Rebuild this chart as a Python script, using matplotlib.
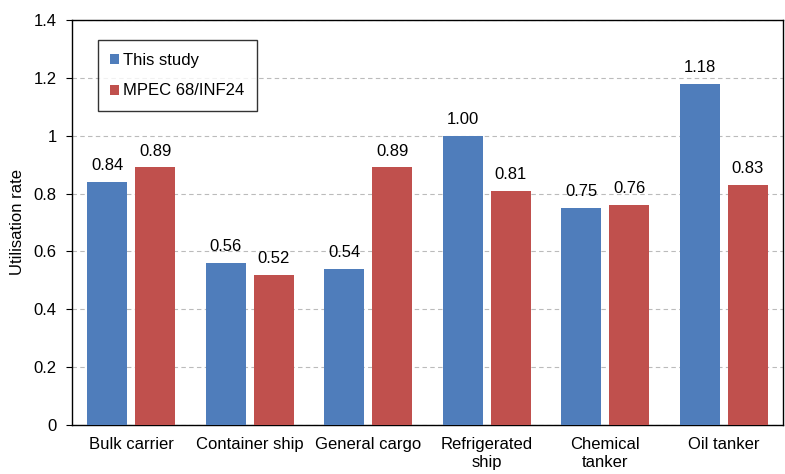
import matplotlib
matplotlib.use("Agg")
import matplotlib.pyplot as plt
import numpy as np

plt.rcParams['font.family'] = ['Liberation Sans', 'DejaVu Sans']

categories = ["Bulk carrier", "Container ship", "General cargo", "Refrigerated\nship", "Chemical\ntanker", "Oil tanker"]
this_study = [0.84, 0.56, 0.54, 1.00, 0.75, 1.18]
mpec = [0.89, 0.52, 0.89, 0.81, 0.76, 0.83]
series_names = ["This study", "MPEC 68/INF24"]
blue = "#4F7DBB"
red = "#C0504D"
fs = 12

fig = plt.figure(figsize=(7.85, 4.74), dpi=100)
ax = fig.add_axes([0.0917, 0.1034, 0.9058, 0.8546])

x = np.arange(len(categories))
w = 0.335
gap = 0.035
b1 = ax.bar(x - w/2 - gap, this_study, w, color=blue, label=series_names[0], zorder=3)
b2 = ax.bar(x + w/2 + gap, mpec, w, color=red, label=series_names[1], zorder=3)

for bars, vals in ((b1, this_study), (b2, mpec)):
    for r, v in zip(bars, vals):
        ax.text(r.get_x() + r.get_width()/2, v + 0.03, f"{v:.2f}", ha='center', va='bottom', fontsize=fs)

ax.set_xlim(-0.5, len(categories) - 0.5)
ax.set_ylim(0, 1.4)
ax.set_yticks(np.arange(0, 1.41, 0.2))
ax.set_yticklabels(["0", "0.2", "0.4", "0.6", "0.8", "1", "1.2", "1.4"])
ax.set_xticks(x)
ax.set_xticklabels(categories, linespacing=1.25)
ax.tick_params(axis='x', length=0, pad=9, labelsize=fs)
ax.tick_params(axis='y', length=4, direction='out', pad=7, labelsize=fs)
ax.yaxis.grid(True, linestyle=(0, (4, 3)), color='#BBBBBB', linewidth=0.8, zorder=0)
ax.set_ylabel("Utilisation rate", fontsize=fs, labelpad=6)
for s in ax.spines.values():
    s.set_linewidth(1.0)
    s.set_color('black')

leg = ax.legend(loc='upper left', bbox_to_anchor=(0.036, 0.95), fontsize=fs,
                frameon=True, fancybox=False, edgecolor='black', handlelength=0.55,
                handleheight=0.55, handletextpad=0.25, labelspacing=0.95, borderpad=0.75,
                borderaxespad=0)
leg.get_frame().set_linewidth(1.0)

fig.savefig("out.png", dpi=100)
